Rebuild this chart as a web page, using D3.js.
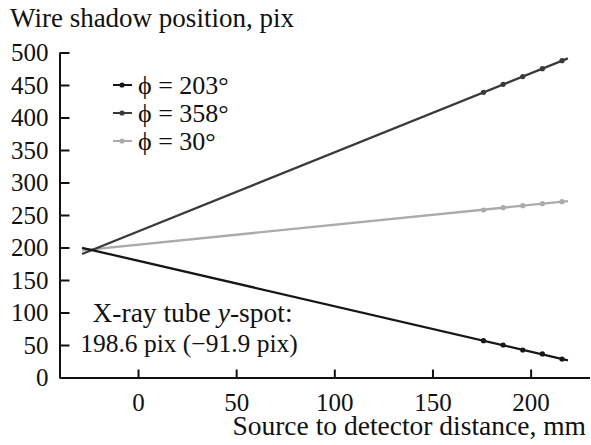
<!DOCTYPE html>
<html>
<head>
<meta charset="utf-8">
<script src="https://cdn.jsdelivr.net/npm/d3@7"></script>
</head>
<body style="margin:0;background:#fff">
<svg id="chart" width="591" height="445"></svg>
<script>
// Measured wire-shadow positions at five source-to-detector distances
const distances = [176, 186, 196, 206, 216];
const phi203 = [56.6, 50, 42.3, 36.2, 28.5];
const phi358 = [438.8, 451, 463, 475.1, 487.4];
const phi30 = [257.7, 261.3, 264.3, 267.4, 270.5];

// Straight-line fits, extended back towards the tube spot
const fitX = [-28.5, 219];
const fit203 = [199.6, 26.5];
const fit358 = [190, 491];
const fit30 = [195.5, 271.4];

const seriesNames = ["\u03d5 = 203\u00b0", "\u03d5 = 358\u00b0", "\u03d5 = 30\u00b0"];
const seriesColors = ["#161616", "#3a3a3a", "#ababab"];

const xTicks = [0, 50, 100, 150, 200];
const yTicks = [0, 50, 100, 150, 200, 250, 300, 350, 400, 450, 500];

const svg = d3.select("#chart");
const x = d3.scaleLinear().domain([-40, 230]).range([59.5, 589.5]);
const y = d3.scaleLinear().domain([0, 500]).range([377.5, 52.5]);

const tickFont = 25;
const labelFont = 26;

// Axes with inward ticks
const yAxis = svg.append("g")
  .attr("transform", `translate(${x(-40)},0)`)
  .call(d3.axisLeft(y).tickValues(yTicks).tickSize(-10).tickSizeOuter(0).tickPadding(11));
const xAxis = svg.append("g")
  .attr("transform", `translate(0,${y(0)})`)
  .call(d3.axisBottom(x).tickValues(xTicks).tickSize(-8).tickSizeOuter(0).tickPadding(15.5));

[yAxis, xAxis].forEach(g => {
  g.attr("font-family", null).attr("font-size", null);
  g.select(".domain").attr("stroke", "#111").attr("stroke-width", 2);
  g.selectAll(".tick line").attr("stroke", "#111").attr("stroke-width", 2);
  g.selectAll(".tick text").attr("font-size", tickFont).attr("fill", "#111");
});

// Axis titles
svg.append("text")
  .attr("x", 10).attr("y", 27)
  .attr("font-size", 27).attr("fill", "#111")
  .text("Wire shadow position, pix");
svg.append("text")
  .attr("x", 586).attr("y", 435)
  .attr("text-anchor", "end")
  .attr("font-size", 27.5).attr("fill", "#111")
  .text("Source to detector distance, mm");

// Fit lines and data points
const series = [
  { fit: fit203, pts: phi203 },
  { fit: fit358, pts: phi358 },
  { fit: fit30, pts: phi30 }
];
const line = d3.line().x(d => x(d[0])).y(d => y(d[1]));

// draw light series first so darker lines sit on top
[2, 1, 0].forEach(i => {
  const s = series[i];
  svg.append("path")
    .datum(fitX.map((v, k) => [v, s.fit[k]]))
    .attr("d", line)
    .attr("fill", "none")
    .attr("stroke", seriesColors[i])
    .attr("stroke-width", 2.3);
  svg.append("g").selectAll("circle")
    .data(distances.map((d, k) => [d, s.pts[k]]))
    .join("circle")
    .attr("cx", d => x(d[0]))
    .attr("cy", d => y(d[1]))
    .attr("r", 2.6)
    .attr("fill", seriesColors[i]);
});

// Legend
const legend = svg.append("g");
seriesNames.forEach((name, i) => {
  const cy = 85 + i * 28;
  legend.append("line")
    .attr("x1", 113).attr("x2", 132).attr("y1", cy).attr("y2", cy)
    .attr("stroke", seriesColors[i]).attr("stroke-width", 2);
  legend.append("circle")
    .attr("cx", 122).attr("cy", cy).attr("r", 2.6)
    .attr("fill", seriesColors[i]);
  legend.append("text")
    .attr("x", 138).attr("y", cy + 8.5)
    .attr("font-size", labelFont).attr("fill", "#111")
    .text(name);
});

// Tube spot annotation
const note = svg.append("text")
  .attr("text-anchor", "middle")
  .attr("fill", "#111");
const l1 = note.append("tspan").attr("x", 192.5).attr("y", 321.5).attr("font-size", 27.5);
l1.append("tspan").text("X-ray tube ");
l1.append("tspan").attr("font-style", "italic").text("y");
l1.append("tspan").text("-spot:");
note.append("tspan").attr("x", 189).attr("y", 351.5).attr("font-size", 25.5)
  .text("198.6 pix (\u221291.9 pix)");

// Serif face on every label
svg.selectAll("text").attr("font-family", "serif");
</script>
</body>
</html>
